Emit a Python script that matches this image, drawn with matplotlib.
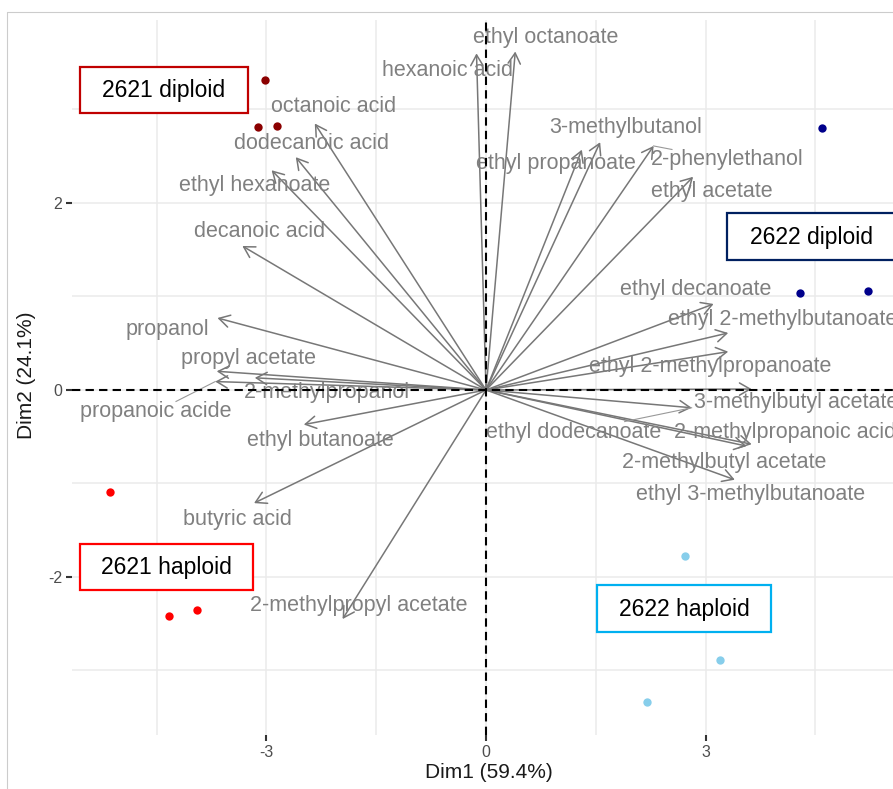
import numpy as np
import matplotlib.pyplot as plt
import matplotlib.transforms as mtransforms
from matplotlib.patches import FancyArrowPatch, Rectangle
from matplotlib.lines import Line2D

plt.rcParams['font.family'] = ['Liberation Sans', 'DejaVu Sans']
plt.rcParams['axes.unicode_minus'] = False

W, H = 893, 789

# ---- individuals (PCA scores) ----
grp_names = ['2621 diploid', '2621 haploid', '2622 diploid', '2622 haploid']
grp_colors = ['#8B0000', '#FF0000', '#00008B', '#87CEEB']
ind_x = [[-3.02, -3.12, -2.86], [-5.14, -4.33, -3.95], [4.59, 4.29, 5.22], [2.72, 3.20, 2.20]]
ind_y = [[3.32, 2.81, 2.82], [-1.09, -2.42, -2.35], [2.80, 1.04, 1.06], [-1.78, -2.89, -3.34]]

# ---- variables (scaled loadings) ----
var_names = ['ethyl octanoate', 'hexanoic acid', 'octanoic acid', 'dodecanoic acid',
             'ethyl hexanoate', 'decanoic acid', 'propanol', 'propyl acetate',
             '2-methylpropanol', 'propanoic acide', 'ethyl butanoate', 'butyric acid',
             '2-methylpropyl acetate', '3-methylbutanol', 'ethyl propanoate',
             '2-phenylethanol', 'ethyl acetate', 'ethyl decanoate',
             'ethyl 2-methylbutanoate', 'ethyl 2-methylpropanoate', '3-methylbutyl acetate',
             'ethyl dodecanoate', '2-methylpropanoic acid', '2-methylbutyl acetate',
             'ethyl 3-methylbutanoate']
var_x = [0.40, -0.13, -2.34, -2.60, -2.93, -3.33, -3.67, -3.68, -3.16, -3.70, -2.49, -3.17,
         -1.96, 1.56, 1.31, 2.29, 2.83, 3.11, 3.31, 3.31, 3.63, 2.81, 3.63, 3.56, 3.40]
var_y = [3.62, 3.60, 2.85, 2.49, 2.35, 1.54, 0.77, 0.20, 0.13, 0.09, -0.37, -1.21,
         -2.45, 2.65, 2.57, 2.61, 2.28, 0.92, 0.61, 0.41, 0.01, -0.19, -0.58, -0.60, -0.96]

# repelled label positions (label centres)
lab_x = [0.82, -0.53, -2.09, -2.38, -3.16, -3.10, -4.35, -3.24, -2.17, -4.52, -2.26, -3.40,
         -1.74, 1.91, 0.96, 3.29, 3.08, 2.86, 4.05, 3.06, 4.24, 1.20, 4.09, 3.25, 3.62]
lab_y = [3.765, 3.42, 3.03, 2.64, 2.19, 1.69, 0.65, 0.34, -0.03, -0.235, -0.535, -1.38,
         -2.30, 2.81, 2.42, 2.46, 2.12, 1.08, 0.75, 0.25, -0.13, -0.45, -0.45, -0.78, -1.12]
seg_labels = ['propanoic acide', '2-phenylethanol', 'ethyl dodecanoate']

# group boxes (added on top of the figure, pixel coords: x, y, w, h)
box_names = ['2621 diploid', '2622 diploid', '2621 haploid', '2622 haploid']
box_edges = ['#C00000', '#002060', '#FF0000', '#00B0F0']
box_px = [(80, 67, 168, 46), (727, 213, 168, 47), (80, 544, 173, 46), (597, 585, 174, 47)]

fig = plt.figure(figsize=(W / 100, H / 100), dpi=100)
ax = fig.add_axes([72 / W, (H - 735) / H, (W - 72) / W, (735 - 20) / H])
px = mtransforms.Affine2D().scale(1 / W, -1 / H).translate(0, 1) + fig.transFigure

ax.set_xlim(-5.658, 5.562)
ax.set_ylim(-3.690, 3.957)
ax.set_xticks([-3, 0, 3])
ax.set_yticks([-2, 0, 2])
ax.set_xticks([-4.5, -1.5, 1.5, 4.5], minor=True)
ax.set_yticks([-3, -1, 1, 3], minor=True)
ax.grid(which='both', color='#EBEBEB', lw=1.1)
ax.set_axisbelow(True)
for s in ax.spines.values():
    s.set_visible(False)
ax.tick_params(which='major', length=4, width=1.5, color='#333333',
               labelsize=11.5, labelcolor='#4D4D4D', pad=3)
ax.tick_params(which='minor', length=0)

ax.axhline(0, color='black', ls=(0, (4, 2.5)), lw=1.5, zorder=4)
ax.axvline(0, color='black', ls=(0, (4, 2.5)), lw=1.5, zorder=4)

# arrows
for vx, vy in zip(var_x, var_y):
    ax.add_patch(FancyArrowPatch((0, 0), (vx, vy), arrowstyle='->,head_length=0.45,head_width=0.26',
                                 mutation_scale=17, color='#777777', lw=1.1,
                                 shrinkA=0, shrinkB=0, zorder=2))

texts = []
for nm, lx, ly in zip(var_names, lab_x, lab_y):
    texts.append(ax.text(lx, ly, nm, ha='center', va='center', fontsize=15.5,
                         color='#808080', zorder=3))

for xs, ys, c in zip(ind_x, ind_y, grp_colors):
    ax.scatter(xs, ys, s=36, color=c, zorder=5, linewidths=0)

# segments from far labels to their arrow tips
fig.canvas.draw()
r = fig.canvas.get_renderer()
for t, nm, vx, vy in zip(texts, var_names, var_x, var_y):
    if nm not in seg_labels:
        continue
    bb = t.get_window_extent(r)
    p0 = ax.transData.transform((vx, vy))
    c = np.array([(bb.x0 + bb.x1) / 2, (bb.y0 + bb.y1) / 2])
    d = c - p0
    tt = []
    for k, (lo, hi) in enumerate([(bb.x0, bb.x1), (bb.y0, bb.y1)]):
        if abs(d[k]) > 1e-9:
            tt.append(((lo if d[k] > 0 else hi) - p0[k]) / d[k])
    te = min(max(max(tt), 0), 1)
    p1 = ax.transData.inverted().transform(p0 + te * d)
    ax.plot([vx, p1[0]], [vy, p1[1]], color='#999999', lw=0.8, zorder=2)

# axis titles
fig.text(489, 773, 'Dim1 (59.4%)', transform=px, ha='center', va='center',
         fontsize=15, color='#1A1A1A')
fig.text(27, 375, 'Dim2 (24.1%)', transform=px, ha='center', va='center',
         rotation=90, fontsize=15, color='#1A1A1A')

# group boxes
for nm, ec, (bx, by, bw, bh) in zip(box_names, box_edges, box_px):
    fig.add_artist(Rectangle((bx, by), bw, bh, transform=px, fill=True, facecolor='white',
                             edgecolor=ec, lw=1.6, zorder=10))
    fig.text(bx + bw / 2, by + bh / 2 + 1, nm, transform=px, ha='center', va='center',
             fontsize=16.5, color='black', zorder=11)

# outer frame
fig.add_artist(Line2D([7, 7, W], [H, 12, 12], transform=px, color='#CCCCCC', lw=0.8))

fig.savefig('out.png', dpi=100)
